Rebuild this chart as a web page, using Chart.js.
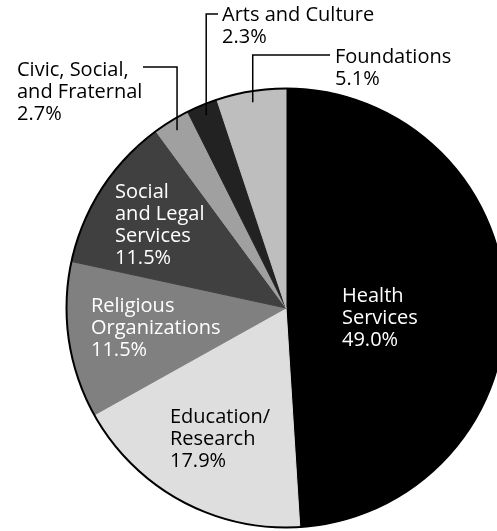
<!DOCTYPE html>
<html>
<head>
<meta charset="utf-8">
<script src="https://cdn.jsdelivr.net/npm/chart.js@4/dist/chart.umd.min.js"></script>
<style>
  html, body { margin: 0; padding: 0; background: #fff; overflow: hidden; width: 497px; height: 531px; }
  #wrap { position: absolute; left: 0; top: 0; width: 520px; height: 531px; }
</style>
</head>
<body>
<div id="wrap"><canvas id="c"></canvas></div>
<script>
// Shares of giving by recipient type (percent), clockwise from 12 o'clock
const categories = [
  'Health Services',
  'Education/Research',
  'Religious Organizations',
  'Social and Legal Services',
  'Civic, Social, and Fraternal',
  'Arts and Culture',
  'Foundations'
];
const shares = [49.0, 17.9, 11.5, 11.5, 2.7, 2.3, 5.1];
const labelLines = [
  ['Health', 'Services'],
  ['Education/', 'Research'],
  ['Religious', 'Organizations'],
  ['Social', 'and Legal', 'Services'],
  ['Civic, Social,', 'and Fraternal'],
  ['Arts and Culture'],
  ['Foundations']
];
const sliceColors = ['#000000', '#dedede', '#808080', '#404040', '#a0a0a0', '#222222', '#bebebe'];

// Label placement: x, centre of first line, text colour, optional leader line
const labelLayout = [
  { x: 342, y: 296, color: '#ffffff' },
  { x: 170, y: 417, color: '#000000' },
  { x: 91,  y: 306, color: '#ffffff' },
  { x: 115, y: 192, color: '#ffffff' },
  { x: 17,  y: 70,  color: '#000000', leader: { y: 67, endX: 143, reach: 0.95 } },
  { x: 222, y: 15,  color: '#000000', leader: { y: 14, endX: 218, reach: 0.95 } },
  { x: 335, y: 57,  color: '#000000', leader: { y: 55, endX: 330, reach: 0.95 } }
];
const LINE_H = 22;
const FONT = '20px "Open Sans"';

const pieDecor = {
  id: 'pieDecor',
  afterDatasetsDraw(chart) {
    const ctx = chart.ctx;
    const meta = chart.getDatasetMeta(0);
    const first = meta.data[0];
    const cx = first.x, cy = first.y, R = first.outerRadius;

    // outer rim
    ctx.save();
    ctx.beginPath();
    ctx.arc(cx, cy, R, 0, Math.PI * 2);
    ctx.lineWidth = 2;
    ctx.strokeStyle = '#000';
    ctx.stroke();

    // leader lines for the thin slices
    ctx.lineWidth = 1.5;
    ctx.strokeStyle = '#000';
    labelLayout.forEach((lay, i) => {
      if (!lay.leader) return;
      const arc = meta.data[i];
      const mid = (arc.startAngle + arc.endAngle) / 2;
      const px = cx + Math.cos(mid) * R * lay.leader.reach;
      const py = cy + Math.sin(mid) * R * lay.leader.reach;
      ctx.beginPath();
      ctx.moveTo(px, py);
      ctx.lineTo(px, lay.leader.y);
      ctx.lineTo(lay.leader.endX, lay.leader.y);
      ctx.stroke();
    });

    // text labels
    ctx.font = FONT;
    ctx.textAlign = 'left';
    ctx.textBaseline = 'middle';
    labelLayout.forEach((lay, i) => {
      const lines = labelLines[i].concat([shares[i].toFixed(1) + '%']);
      ctx.fillStyle = lay.color;
      lines.forEach((t, k) => ctx.fillText(t, lay.x, lay.y + k * LINE_H));
    });
    ctx.restore();
  }
};

new Chart(document.getElementById('c'), {
  type: 'pie',
  data: {
    labels: categories,
    datasets: [{
      data: shares,
      backgroundColor: sliceColors,
      borderColor: sliceColors,
      borderWidth: 1
    }]
  },
  options: {
    responsive: true,
    maintainAspectRatio: false,
    animation: false,
    layout: { padding: { left: 66, right: 14, top: 88, bottom: 3 } },
    plugins: { legend: { display: false }, tooltip: { enabled: false } }
  },
  plugins: [pieDecor]
});
</script>
</body>
</html>
